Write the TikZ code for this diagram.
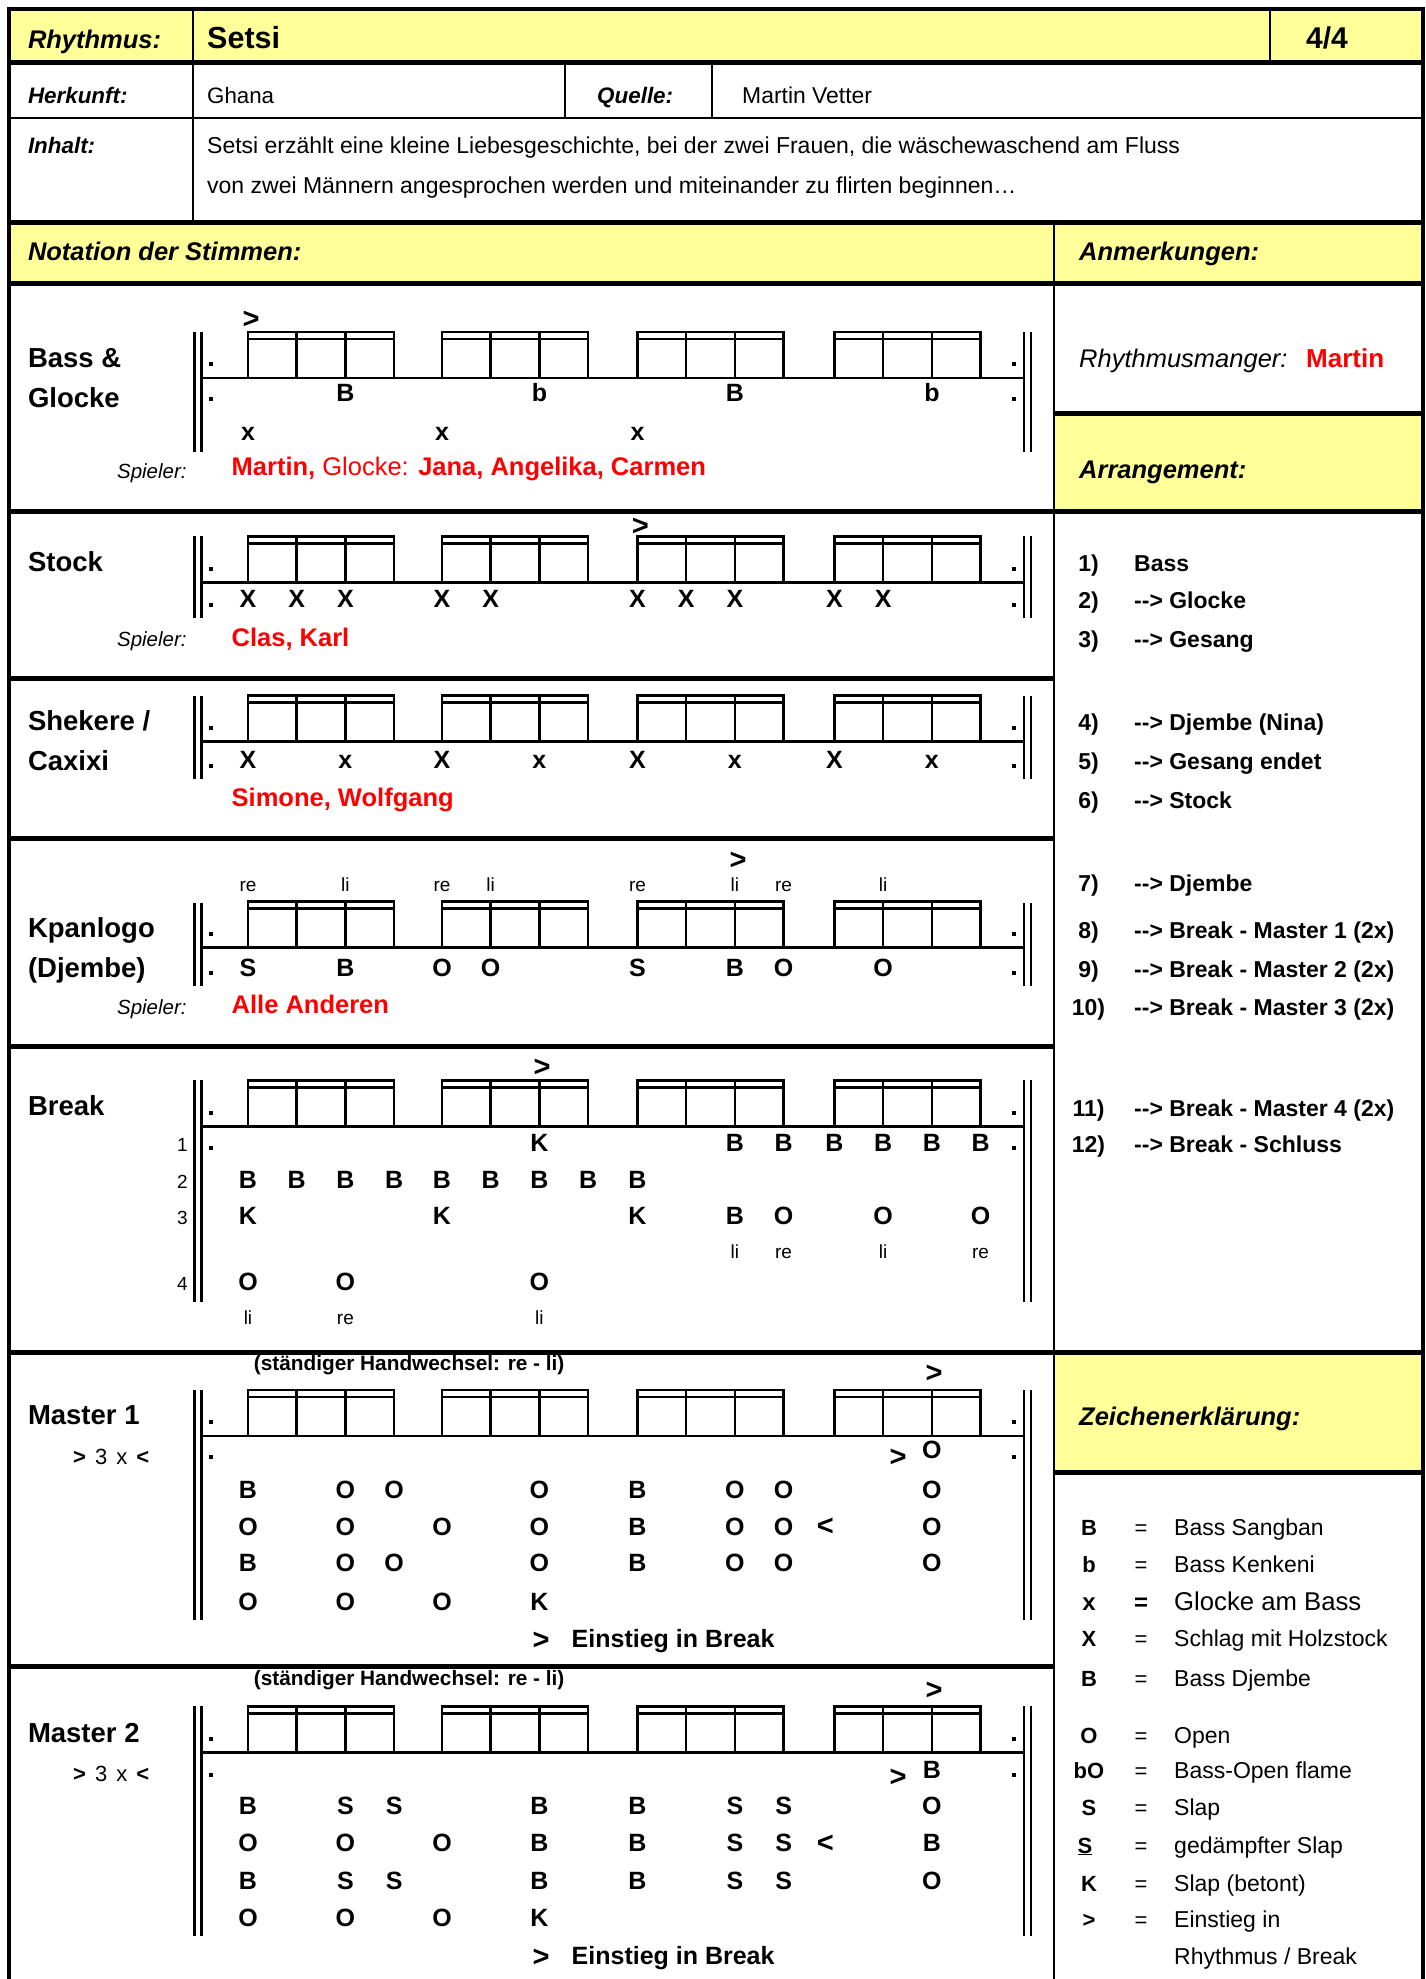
\documentclass[tikz,border=0pt]{standalone}
\usepackage{fontspec}
\setmainfont{Liberation Sans}
\definecolor{ylw}{RGB}{255,255,153}
\definecolor{rd}{RGB}{255,0,0}
\newcommand\fs[1]{\fontsize{#1}{#1}\selectfont}
\newcommand\px[1]{\ifcase#1 248\or 296.7\or 345.4\or 394.1\or 442\or 490.7\or 539.4\or 588.1\or 637.5\or 686.2\or 734.9\or 783.6\or 834.5\or 883.2\or 931.9\or 980.6\fi}
\tikzset{
  border/.style={line width=3.2pt},
  thickln/.style={line width=5pt},
  thinln/.style={line width=2.8pt},
  barln/.style={line width=2.4pt},
  stln/.style={line width=2.5pt},
  boxln/.style={line width=2.5pt},
  lbl/.style={anchor=base west, inner sep=0pt, font=\fs{27.5}\bfseries},
  hdr/.style={anchor=base west, inner sep=0pt, font=\fs{25.5}\bfseries\itshape},
  hdrs/.style={anchor=base west, inner sep=0pt, font=\fs{22.4}\bfseries\itshape},
  txt/.style={anchor=base west, inner sep=0pt, font=\fs{22.9}},
  nt/.style={anchor=base, inner sep=0pt, font=\fs{25}\bfseries},
  acc/.style={anchor=base, inner sep=0pt, font=\fs{29}\bfseries},
  hand/.style={anchor=base, inner sep=0pt, font=\fs{19}},
  rownum/.style={anchor=base east, inner sep=0pt, font=\fs{19}},
  spl/.style={anchor=base east, inner sep=0pt, font=\fs{20.5}\itshape},
  names/.style={anchor=base west, inner sep=0pt, text=rd, font=\fs{25.5}},
  arrn/.style={anchor=base, inner sep=0pt, font=\fs{23}\bfseries},
  arrt/.style={anchor=base west, inner sep=0pt, font=\fs{23}\bfseries},
  legs/.style={anchor=base, inner sep=0pt, font=\fs{22}\bfseries},
  lege/.style={anchor=base, inner sep=0pt, font=\fs{22}},
  legt/.style={anchor=base west, inner sep=0pt, font=\fs{23}},
  hw/.style={anchor=base west, inner sep=0pt, font=\fs{20.8}\bfseries},
}
% #1 S (staff line y), #2 bar top, #3 bar bottom, #4 lower dot y
\newcommand\drawstaff[4]{%
  \draw[barln] (194.5,#2) -- (194.5,#3) (201.5,#2) -- (201.5,#3)
               (1024,#2) -- (1024,#3) (1031,#2) -- (1031,#3);
  \draw[stln] (201.5,#1) -- (1024,#1);
  \foreach \g in {248,442,637.5,834.5}{
    \draw[boxln] (\g,#1) -- (\g,#1-46) -- (\g+146.1,#1-46) -- (\g+146.1,#1)
      (\g,#1-39) -- (\g+146.1,#1-39)
      (\g+48.7,#1-46) -- (\g+48.7,#1) (\g+97.4,#1-46) -- (\g+97.4,#1);
  }
  \foreach \xx in {210.7,1014}{
    \fill (\xx-2,#1-16) rectangle (\xx+2,#1-12);
    \fill (\xx-2,#4-2) rectangle (\xx+2,#4+2);
  }%
}
% #1 prefix, #2 baseline, #3 list pulse/letter
\newcommand\notes[3]{%
  \foreach \p/\l in {#3}{\node[nt] (#1-\p) at ({\px{\p}},#2) {\l};}%
}
\newcommand\hands[3]{%
  \foreach \p/\l in {#3}{\node[hand] (#1-\p) at ({\px{\p}},#2) {\l};}%
}
\begin{document}
\begin{tikzpicture}[x=1pt,y=-1pt]
\useasboundingbox (0,0) rectangle (1426,1979);
% ---------- fills ----------
\fill[ylw] (9,9) rectangle (1423,62.5);
\fill[ylw] (9,222.5) rectangle (1423,283);
\fill[ylw] (1054,413) rectangle (1423,511);
\fill[ylw] (1054,1352) rectangle (1423,1472);
% ---------- frame ----------
\draw[border] (9,1995) -- (9,9) -- (1423,9) -- (1423,1995);
\draw[thinln] (9,118) -- (1423,118);
\draw[thickln] (9,62.5) -- (1423,62.5)
  (9,222.5) -- (1423,222.5) (9,283) -- (1423,283)
  (1054,413) -- (1423,413) (9,511) -- (1423,511)
  (9,678) -- (1054,678) (9,838) -- (1054,838) (9,1046) -- (1054,1046)
  (9,1352) -- (1423,1352) (1054,1472) -- (1423,1472) (9,1666) -- (1054,1666);
\draw[thinln] (193,9) -- (193,222.5) (1270,9) -- (1270,62.5)
  (565,62.5) -- (565,118) (712,62.5) -- (712,118) (1054,222.5) -- (1054,1995);
% ---------- header ----------
\node[hdr] (rh) at (27.8,48) {Rhythmus:};
\node[anchor=base west, inner sep=0pt, font=\fs{30.5}\bfseries] (setsi) at (207,48) {Setsi};
\node[anchor=base west, inner sep=0pt, font=\fs{30}\bfseries] (takt) at (1306,48) {4/4};
\node[hdrs] (herk) at (27.8,103) {Herkunft:};
\node[txt, font=\fs{22.3}] (ghana) at (207,103) {Ghana};
\node[hdrs] (quel) at (597,103) {Quelle:};
\node[txt] (mv) at (742,103) {Martin Vetter};
\node[hdrs] (inh) at (27.8,153) {Inhalt:};
\node[txt, font=\fs{23}] (inh1) at (207,153) {Setsi erzählt eine kleine Liebesgeschichte, bei der zwei Frauen, die wäschewaschend am Fluss};
\node[txt, font=\fs{23}] (inh2) at (207,193) {von zwei Männern angesprochen werden und miteinander zu flirten beginnen…};
\node[hdr] (nots) at (27.8,260) {Notation der Stimmen:};
\node[hdr] (anm) at (1079,260) {Anmerkungen:};
\node[anchor=base west, inner sep=0pt, font=\fs{25.5}\itshape] (rm) at (1079,367) {Rhythmusmanger:};
\node[anchor=base west, inner sep=0pt, text=rd, font=\fs{26}\bfseries] (rmn) at (1306,367) {Martin};
\node[hdr] (arr) at (1079,478) {Arrangement:};
\node[hdr] (zei) at (1079,1425) {Zeichenerklärung:};
% ---------- Bass & Glocke ----------
\node[lbl] (l1a) at (27.8,367) {Bass \&};
\node[lbl] (l1b) at (27.8,407) {Glocke};
\drawstaff{378}{332}{452}{398.5}
\node[acc] (acc1) at (251,328) {>};
\notes{bg}{401}{2/B,6/b,10/B,14/b}
\notes{bx}{440.7}{0/x,4/x,8/x}
\node[spl] (sp1) at (186.8,478) {Spieler:};
\node[names] (nm1) at (231.5,475) {\textbf{Martin,} Glocke: \textbf{Jana, Angelika, Carmen}};
% ---------- Stock ----------
\node[lbl] (l2) at (27.8,571) {Stock};
\drawstaff{582.5}{536}{618}{605}
\node[acc] (acc2) at (640.3,535) {>};
\notes{st}{607}{0/X,1/X,2/X,4/X,5/X,8/X,9/X,10/X,12/X,13/X}
\node[spl] (sp2) at (186.8,646.5) {Spieler:};
\node[names] (nm2) at (231.5,646) {\textbf{Clas, Karl}};
% ---------- Shekere ----------
\node[lbl] (l3a) at (27.8,730) {Shekere /};
\node[lbl] (l3b) at (27.8,770.5) {Caxixi};
\drawstaff{741.5}{696}{779}{766}
\notes{sh}{768.5}{0/X,2/x,4/X,6/x,8/X,10/x,12/X,14/x}
\node[names] (nm3) at (231.5,806) {\textbf{Simone, Wolfgang}};
% ---------- Kpanlogo ----------
\node[lbl] (l4a) at (27.8,937) {Kpanlogo};
\node[lbl] (l4b) at (27.8,977.5) {(Djembe)};
\drawstaff{947.5}{903}{986}{973}
\node[acc] (acc4) at (738,869) {>};
\hands{kh}{891}{0/re,2/li,4/re,5/li,8/re,10/li,11/re,13/li}
\notes{kp}{976}{0/S,2/B,4/O,5/O,8/S,10/B,11/O,13/O}
\node[spl] (sp4) at (186.8,1014.5) {Spieler:};
\node[names] (nm4) at (231.5,1013.5) {\textbf{Alle Anderen}};
% ---------- Break ----------
\node[lbl] (l5) at (27.8,1115.5) {Break};
\drawstaff{1126.7}{1080}{1302}{1148}
\node[acc] (acc5) at (542,1076) {>};
\node[rownum] (bn1) at (188,1151.5) {1};
\node[rownum] (bn2) at (188,1188) {2};
\node[rownum] (bn3) at (188,1224.5) {3};
\node[rownum] (bn4) at (188,1290) {4};
\notes{br1}{1151.5}{6/K,10/B,11/B,12/B,13/B,14/B,15/B}
\notes{br2}{1188}{0/B,1/B,2/B,3/B,4/B,5/B,6/B,7/B,8/B}
\notes{br3}{1224.5}{0/K,4/K,8/K,10/B,11/O,13/O,15/O}
\hands{bh3}{1258}{10/li,11/re,13/li,15/re}
\notes{br4}{1290}{0/O,2/O,6/O}
\hands{bh4}{1324}{0/li,2/re,6/li}
% ---------- Master 1 ----------
\node[lbl] (l6) at (27.8,1424.5) {Master 1};
\node[anchor=base west, inner sep=0pt, font=\fs{22}] (m1x) at (73,1464) {\textbf{>}\hspace{9pt}3\hspace{9pt}x\hspace{9pt}\textbf{<}};
\node[hw] (hw1) at (253.7,1370) {(ständiger Handwechsel: re - li)};
\drawstaff{1436}{1390}{1620}{1456.5}
\node[acc] (acc6) at (934,1382.5) {>};
\node[acc] (m1a) at (898,1466) {>};
\notes{m1r0}{1458}{14/O}
\notes{m1r1}{1498}{0/B,2/O,3/O,6/O,8/B,10/O,11/O,14/O}
\notes{m1r2}{1535}{0/O,2/O,4/O,6/O,8/B,10/O,11/O,14/O}
\node[acc] (m1lt) at (825.4,1535.5) {<};
\notes{m1r3}{1571.5}{0/B,2/O,3/O,6/O,8/B,10/O,11/O,14/O}
\notes{m1r4}{1610.5}{0/O,2/O,4/O,6/K}
\node[acc] (m1e) at (541,1649) {>};
\node[nt, anchor=base west] (m1et) at (571.5,1647) {Einstieg in Break};
% ---------- Master 2 ----------
\node[lbl] (l7) at (27.8,1742.5) {Master 2};
\node[anchor=base west, inner sep=0pt, font=\fs{22}] (m2x) at (73,1781) {\textbf{>}\hspace{9pt}3\hspace{9pt}x\hspace{9pt}\textbf{<}};
\node[hw] (hw2) at (253.7,1685) {(ständiger Handwechsel: re - li)};
\drawstaff{1752.5}{1706}{1936}{1775}
\node[acc] (acc7) at (934,1699) {>};
\node[acc] (m2a) at (898,1786) {>};
\notes{m2r0}{1778.5}{14/B}
\notes{m2r1}{1814}{0/B,2/S,3/S,6/B,8/B,10/S,11/S,14/O}
\notes{m2r2}{1851.5}{0/O,2/O,4/O,6/B,8/B,10/S,11/S,14/B}
\node[acc] (m2lt) at (825.4,1852) {<};
\notes{m2r3}{1889.5}{0/B,2/S,3/S,6/B,8/B,10/S,11/S,14/O}
\notes{m2r4}{1926.5}{0/O,2/O,4/O,6/K}
\node[acc] (m2e) at (541,1966) {>};
\node[nt, anchor=base west] (m2et) at (571.5,1964) {Einstieg in Break};
% ---------- Arrangement ----------
\foreach \yy/\n/\t [count=\i] in {
  571.5/1)/Bass,
  608/2)/-{}-> Glocke,
  647/3)/-{}-> Gesang,
  730.5/4)/-{}-> Djembe (Nina),
  769.5/5)/-{}-> Gesang endet,
  808/6)/-{}-> Stock,
  891/7)/-{}-> Djembe,
  938/8)/-{}-> Break - Master 1 (2x),
  977/9)/-{}-> Break - Master 2 (2x),
  1015.5/10)/-{}-> Break - Master 3 (2x),
  1116/11)/-{}-> Break - Master 4 (2x),
  1152/12)/-{}-> Break - Schluss}{
  \node[arrn] (an\i) at (1088.5,\yy) {\n};
  \node[arrt] (at\i) at (1134,\yy) {\t};
}
% ---------- Legend ----------
\foreach \yy/\s/\t [count=\i] in {
  1535/B/Bass Sangban,
  1572/b/Bass Kenkeni,
  1646/X/Schlag mit Holzstock,
  1686.5/B/Bass Djembe,
  1743.5/O/Open,
  1778/bO/Bass-Open flame,
  1815/S/Slap,
  1891/K/Slap (betont),
  1927.5/>/Einstieg in}{
  \node[legs] (ls\i) at (1089,\yy) {\s};
  \node[lege] (le\i) at (1141,\yy) {=};
  \node[legt] (lt\i) at (1174,\yy) {\t};
}
\node[legs, font=\fs{24}\bfseries] (lsx) at (1089,1610) {x};
\node[legs, font=\fs{24}\bfseries] (lex) at (1141,1610) {=};
\node[legt, font=\fs{25.7}] (ltx) at (1174,1610) {Glocke am Bass};
\node[legs] (lsu) at (1085,1853) {\underline{S}};
\node[lege] (leu) at (1141,1853) {=};
\node[legt] (ltu) at (1174,1853) {gedämpfter Slap};
\node[legt] (ltr) at (1174,1964) {Rhythmus / Break};
\end{tikzpicture}
\end{document}
